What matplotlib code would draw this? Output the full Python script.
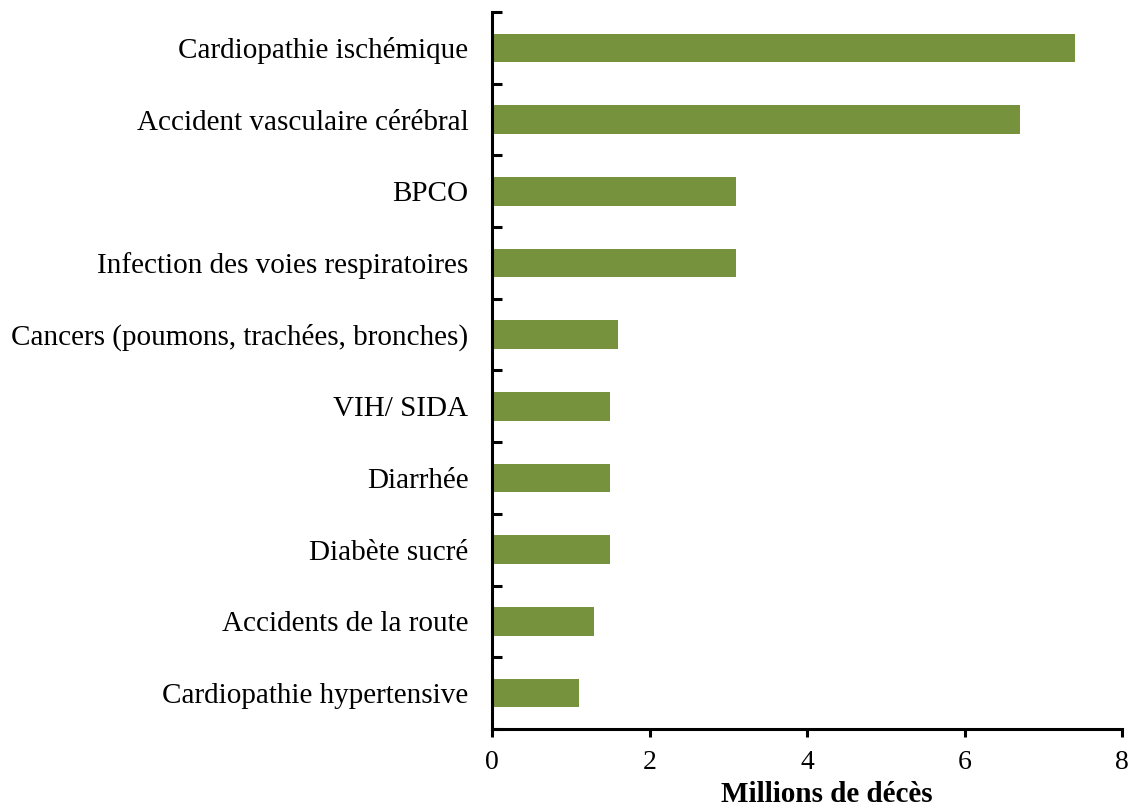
import matplotlib
matplotlib.use("Agg")
import matplotlib.pyplot as plt
import numpy as np

categories = [
    "Cardiopathie ischémique",
    "Accident vasculaire cérébral",
    "BPCO",
    "Infection des voies respiratoires",
    "Cancers (poumons, trachées, bronches)",
    "VIH/ SIDA",
    "Diarrhée",
    "Diabète sucré",
    "Accidents de la route",
    "Cardiopathie hypertensive",
]
values = [7.4, 6.7, 3.1, 3.1, 1.6, 1.5, 1.5, 1.5, 1.3, 1.1]
xticks = [0, 2, 4, 6, 8]
xlabel = "Millions de décès"

plt.rcParams['font.family'] = ['Liberation Serif', 'DejaVu Serif']

fig = plt.figure(figsize=(11.32, 8.10), dpi=100)
ax = fig.add_axes([492/1132, 81/810, (1122-492)/1132, (729-12)/810])

n = len(categories)
y = np.arange(n)
ax.barh(y, values, height=0.4, color="#77923C")
ax.set_ylim(n - 0.5, -0.5)
ax.set_xlim(0, 8)
ax.set_xticks(xticks)
ax.set_xticklabels([str(t) for t in xticks], fontsize=20)

ax.set_yticks(y)
ax.set_yticklabels(categories, fontsize=21)
ax.tick_params(axis='y', which='major', length=0, pad=17)
ax.set_yticks(np.arange(-0.5, n, 1.0), minor=True)
ax.tick_params(axis='y', which='minor', direction='in', length=7, width=2.2)
ax.tick_params(axis='x', direction='out', length=6, width=2.2, pad=9)

for s in ['top', 'right']:
    ax.spines[s].set_visible(False)
for s in ['left', 'bottom']:
    ax.spines[s].set_linewidth(2.2)

ax.set_xlabel(xlabel, fontsize=21, fontweight='bold', va='baseline')
ax.xaxis.set_label_coords((827 - 492) / 630, (729 - 802) / 717)

fig.savefig("out.png", dpi=100)
